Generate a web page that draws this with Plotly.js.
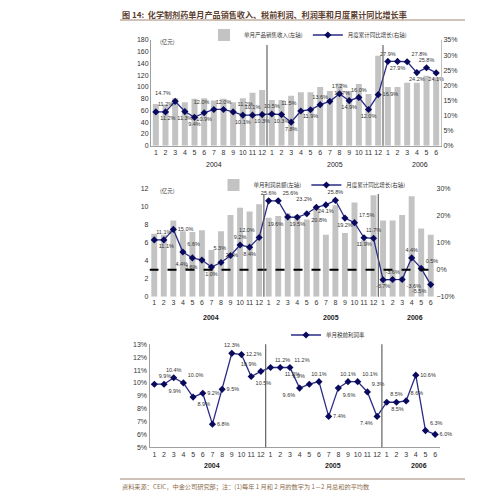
<!DOCTYPE html>
<html><head><meta charset="utf-8">
<script src="https://cdn.plot.ly/plotly-3.0.1.min.js"></script>
<style>body{margin:0;background:#fff}#chart{width:500px;height:498px}</style>
</head><body><div id="chart"></div>
<script>
// ---------- DATA ----------
const monthLabels = ['1','2','3','4','5','6','7','8','9','10','11','12',
                     '1','2','3','4','5','6','7','8','9','10','11','12',
                     '1','2','3','4','5','6'];
const yearLabels = ['2004','2005','2006'];
// 单月产品销售收入 (亿元)
const salesRevenue = [71,70,81,74,80,81,77,80,74,81,90,95,
                      78,78,85,91,91,100,93,106,93,105,88,153,
                      100,100,107,107,119,116];
// 月度累计同比增长 (%)
const salesGrowth = [11.2,11.2,14.7,11.3,9.4,10.9,12.0,12.0,11.2,10.1,10.1,10.3,
                     10.5,10.3,7.8,11.5,11.9,13.6,14.7,17.2,14.9,16.0,12.0,16.9,
                     27.9,27.9,27.8,24.2,25.8,24.1];
// 单月利润总额 (亿元)
const profitTotal = [7.0,6.9,8.5,7.3,7.2,7.4,5.2,7.3,9.1,9.9,9.5,10.3,
                     8.8,9.0,9.3,9.1,8.6,9.9,6.9,10.2,7.1,10.5,6.3,11.3,
                     8.5,8.5,9.1,11.2,7.6,6.9];
// 月度累计同比增长 (%)
const profitGrowth = [11.1,11.1,15.0,6.6,4.4,3.6,1.0,2.7,5.3,9.2,8.4,12.0,
                      25.6,25.6,19.6,19.5,20.8,23.2,24.1,25.8,19.2,17.5,11.9,11.7,
                      -3.7,-3.6,-3.6,4.4,0.5,-5.5];
// 单月税前利润率 (%)
const profitMargin = [9.9,9.9,10.4,10.0,8.9,9.2,6.8,9.5,12.3,12.2,10.5,10.9,
                      11.2,11.2,11.2,9.6,9.9,10.1,7.4,9.6,10.1,10.1,9.3,7.4,
                      8.5,8.5,8.6,10.6,6.3,6.0];

// ---------- label placement (style only) ----------
const T='top center',B='bottom center',TR='top right',TL='top left',BR='bottom right',BL='bottom left',MR='middle right',ML='middle left';
const salesPos = [BR,T,TL,B,B,B,TL,T,TR,B,T,B, T,B,B,TL,B,T,TR,T,B,T,B,MR, T,B,TR,B,T,B];
const profitPos = [BR,T,MR,TR,BL,BL,B,TR,TL,T,B,TL, T,TR,BL,B,BR,TL,B,T,B,TR,B,T, B,T,BR,T,TR,BL];
const marginPos = [TR,BR,T,TR,BR,MR,MR,MR,T,MR,BR,TL, TR,BR,TR,BL,TL,T,MR,BR,T,TR,TR,BL, BR,T,TR,MR,TR,MR];

const idx = monthLabels.map((_, i) => i);
const pct = a => a.map(v => v.toFixed(1) + '%');

const FONT = 'Liberation Sans, Arial, Noto Sans CJK SC';
const CJK = 'Noto Sans CJK SC, Liberation Sans';
const barColor = '#c3c3c3';
const lineColor = '#2b2b86';
const markColor = '#0a0a5c';

const lineTrace = (y, yaxis, xaxis, name, pos, legend) => ({
  type: 'scatter', mode: 'lines+markers+text', x: idx, y: y,
  xaxis, yaxis, name, legend,
  line: {color: lineColor, width: 1.3},
  marker: {symbol: 'diamond', size: 5.5, color: markColor},
  text: pct(y), textposition: pos,
  textfont: {family: FONT, size: 5.5, color: '#333'},
  cliponaxis: false, hoverinfo: 'skip'
});

const traces = [
  {type: 'bar', x: idx, y: salesRevenue, xaxis: 'x', yaxis: 'y', name: '单月产品销售收入(左轴)',
   marker: {color: barColor}, width: 0.62, legend: 'legend'},
  lineTrace(salesGrowth, 'y2', 'x', '月度累计同比增长(右轴)', salesPos, 'legend'),
  {type: 'bar', x: idx, y: profitTotal, xaxis: 'x2', yaxis: 'y3', name: '单月利润总额(左轴)',
   marker: {color: barColor}, width: 0.62, legend: 'legend2'},
  lineTrace(profitGrowth, 'y4', 'x2', '月度累计同比增长(右轴)', profitPos, 'legend2'),
  lineTrace(profitMargin, 'y5', 'x3', '单月税前利润率', marginPos, 'legend3')
];

const P = (px) => px / 500;
const Q = (py) => 1 - py / 498;

const xBase = {
  range: [-0.5, 29.5], tickmode: 'array', tickvals: idx, ticktext: monthLabels, tickangle: 0,
  tickfont: {family: FONT, size: 7, color: '#333'}, showgrid: false, zeroline: false,
  showline: true, linecolor: '#a0a0a0', linewidth: 1, ticks: '', fixedrange: true
};
const yBase = {
  showgrid: false, zeroline: false, tickfont: {family: FONT, size: 7, color: '#333'},
  ticks: '', fixedrange: true
};

const legendBase = {
  orientation: 'h', bgcolor: 'rgba(0,0,0,0)', font: {family: CJK, size: 5.5, color: '#333'},
  xanchor: 'center', yanchor: 'middle', itemwidth: 30, itemsizing: 'trace'
};

const yearAnn = (xref, yPix, bold) => yearLabels.map((t, k) => ({
  xref, yref: 'paper', x: [6, 18.5, 27.3][k], y: Q(yPix), text: bold ? '<b>' + t + '</b>' : t,
  showarrow: false, font: {family: FONT, size: 7, color: '#222'}, xanchor: 'center', yanchor: 'middle'
}));

const divider = (xref, yTop, yBot) => [11.5, 23.5].map(xv => ({
  type: 'line', xref, yref: 'paper', x0: xv, x1: xv, y0: Q(yBot), y1: Q(yTop),
  line: {color: '#555', width: 1.1}
}));

const layout = {
  width: 500, height: 498, margin: {l: 0, r: 0, t: 0, b: 0},
  paper_bgcolor: '#fff', plot_bgcolor: 'rgba(0,0,0,0)', showlegend: true, bargap: 0.3,
  xaxis: Object.assign({}, xBase, {domain: [P(151), P(441)], anchor: 'y'}),
  yaxis: Object.assign({}, yBase, {domain: [Q(145.7), Q(40)], range: [0, 180], dtick: 20,
           showline: true, linecolor: '#a0a0a0', anchor: 'x'}),
  yaxis2: Object.assign({}, yBase, {overlaying: 'y', side: 'right', range: [0, 35], dtick: 5,
           ticksuffix: '%', showline: true, linecolor: '#c0c0c0', anchor: 'x'}),
  xaxis2: Object.assign({}, xBase, {domain: [P(149.5), P(435.5)], anchor: 'y3', showline: false}),
  yaxis3: Object.assign({}, yBase, {domain: [Q(296.7), Q(189)], range: [0, 12], dtick: 2, anchor: 'x2'}),
  yaxis4: Object.assign({}, yBase, {overlaying: 'y3', side: 'right', range: [-10, 30], dtick: 10,
           ticksuffix: '%', anchor: 'x2'}),
  xaxis3: Object.assign({}, xBase, {domain: [P(149.5), P(440)], anchor: 'y5'}),
  yaxis5: Object.assign({}, yBase, {domain: [Q(447.3), Q(344.3)], range: [5, 13], dtick: 1,
           ticksuffix: '%', showline: true, linecolor: '#a0a0a0', anchor: 'x3'}),
  legend: Object.assign({}, legendBase, {x: P(308), y: Q(35)}),
  legend2: Object.assign({}, legendBase, {x: P(312), y: Q(185)}),
  legend3: Object.assign({}, legendBase, {x: P(328), y: Q(335)}),
  shapes: [
    {type: 'line', xref: 'paper', yref: 'paper', x0: P(120), x1: P(465), y0: Q(20), y1: Q(20),
     line: {color: '#a48672', width: 1}},
    {type: 'line', xref: 'paper', yref: 'paper', x0: P(120), x1: P(465), y0: Q(479), y1: Q(479),
     line: {color: '#a48672', width: 1}},
    {type: 'line', xref: 'x2', yref: 'y3', x0: -0.5, x1: 29.5, y0: 3, y1: 3,
     line: {color: '#000', width: 2.2, dash: 'dash'}},
    ...divider('x', 45, 145.7),
    ...divider('x2', 194, 296.7),
    ...divider('x3', 344.3, 447.3)
  ],
  annotations: [
    {xref: 'paper', yref: 'paper', x: P(120), y: Q(14), xanchor: 'left', yanchor: 'middle', showarrow: false,
     text: '<b>图 14:  化学制剂药单月产品销售收入、税前利润、利润率和月度累计同比增长率</b>',
     font: {family: CJK, size: 8.1, color: '#5c3d2e'}},
    {xref: 'paper', yref: 'paper', x: P(120), y: Q(486), xanchor: 'left', yanchor: 'middle', showarrow: false,
     text: '资料来源：CEIC，中金公司研究部；注：(1)每年 1 月和 2 月的数字为 1－2 月总和的平均数',
     font: {family: CJK, size: 6.2, color: '#8b6b4a'}},
    {xref: 'paper', yref: 'paper', x: P(158), y: Q(42), xanchor: 'left', yanchor: 'middle', showarrow: false,
     text: '(亿元)', font: {family: CJK, size: 5.5, color: '#333'}},
    {xref: 'paper', yref: 'paper', x: P(158), y: Q(191), xanchor: 'left', yanchor: 'middle', showarrow: false,
     text: '(亿元)', font: {family: CJK, size: 5.5, color: '#333'}},
    ...yearAnn('x', 164, false),
    ...yearAnn('x2', 317, true),
    ...yearAnn('x3', 465.5, true)
  ]
};

Plotly.newPlot('chart', traces, layout, {displayModeBar: false, staticPlot: true});
</script>
</body></html>
